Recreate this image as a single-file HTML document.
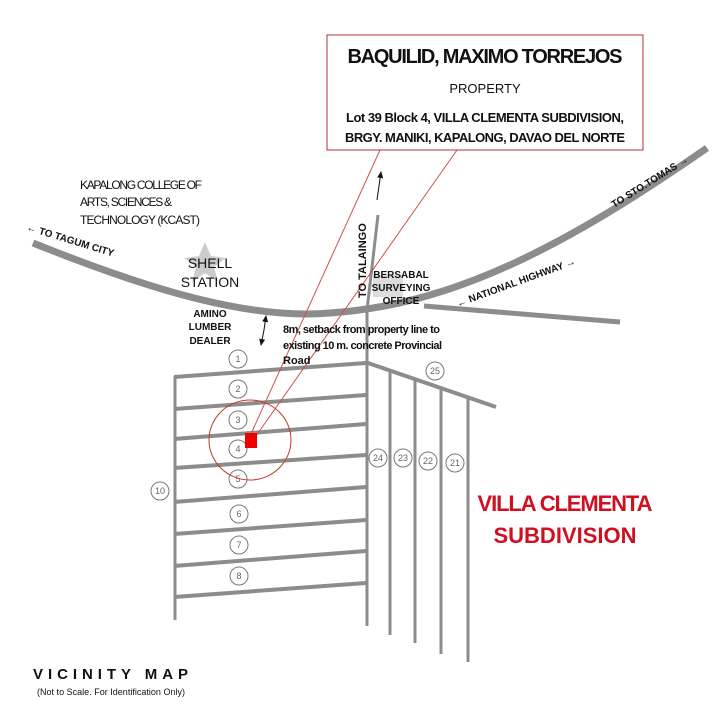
<!DOCTYPE html>
<html><head><meta charset="utf-8"><style>
html,body{margin:0;padding:0;background:#fff}
svg{display:block}
text{font-family:"Liberation Sans",Arial,sans-serif}
</style></head><body>
<svg width="720" height="720" viewBox="0 0 720 720" xmlns="http://www.w3.org/2000/svg">
<defs>
<marker id="ah" markerWidth="8" markerHeight="8" refX="6" refY="4" orient="auto"><path d="M0,1 L7,4 L0,7 z" fill="#111"/></marker>
</defs>
<rect width="720" height="720" fill="#fff"/>
<polygon points="205,242 211,256 226,258 214,267 218,282 205,273 192,282 196,267 184,258 199,256" fill="#ccc"/>
<rect x="373" y="275" width="30" height="22" fill="#ddd"/>
<path d="M33,243 C150,290 250,320 330,313 C450,305 560,250 707,148" fill="none" stroke="#8c8c8c" stroke-width="7"/>
<path d="M424,306 L620,322" stroke="#8c8c8c" stroke-width="5"/>
<path d="M378,215 L367,310 L367,626" fill="none" stroke="#8c8c8c" stroke-width="3"/>
<g stroke="#8c8c8c" stroke-width="4">
<line x1="174" y1="377" x2="366" y2="363"/>
<line x1="174" y1="409" x2="366" y2="395"/>
<line x1="174" y1="439" x2="366" y2="424"/>
<line x1="174" y1="468" x2="366" y2="455"/>
<line x1="174" y1="502" x2="366" y2="487"/>
<line x1="174" y1="534" x2="366" y2="520"/>
<line x1="174" y1="566" x2="366" y2="551"/>
<line x1="174" y1="597" x2="366" y2="583"/>
<line x1="368" y1="363" x2="496" y2="407"/>
</g>
<g stroke="#8c8c8c" stroke-width="3">
<line x1="175" y1="376" x2="175" y2="620"/>
<line x1="390" y1="371" x2="390" y2="635"/>
<line x1="415" y1="380" x2="415" y2="643"/>
<line x1="441" y1="389" x2="441" y2="654"/>
<line x1="468" y1="398" x2="468" y2="662"/>
</g>
<g fill="#fff" stroke="#777" stroke-width="1">
<circle cx="238" cy="359" r="9"/><circle cx="238" cy="389" r="9"/><circle cx="238" cy="420" r="9"/>
<circle cx="238" cy="449" r="9"/><circle cx="238" cy="479" r="9"/><circle cx="239" cy="514" r="9"/>
<circle cx="239" cy="545" r="9"/><circle cx="239" cy="576" r="9"/><circle cx="160" cy="491" r="9"/>
<circle cx="378" cy="458" r="9"/><circle cx="403" cy="458" r="9"/><circle cx="428" cy="461" r="9"/>
<circle cx="455" cy="463" r="9"/><circle cx="435" cy="371" r="9"/>
</g>
<g font-size="9" fill="#666" text-anchor="middle">
<text x="238" y="362">1</text><text x="238" y="392">2</text><text x="238" y="423">3</text>
<text x="238" y="452">4</text><text x="238" y="482">5</text><text x="239" y="517">6</text>
<text x="239" y="548">7</text><text x="239" y="579">8</text><text x="160" y="494">10</text>
<text x="378" y="461">24</text><text x="403" y="461">23</text><text x="428" y="464">22</text>
<text x="455" y="466">21</text><text x="435" y="374">25</text>
</g>
<ellipse cx="250" cy="440" rx="41" ry="40" fill="none" stroke="#c0392b" stroke-width="1"/>
<line x1="380" y1="150" x2="250" y2="436" stroke="#d05050" stroke-width="1"/>
<line x1="457" y1="150" x2="256" y2="436" stroke="#d05050" stroke-width="1"/>
<rect x="245" y="433" width="12" height="15" fill="#e00"/>
<rect x="327" y="35" width="316" height="115" fill="#fff" stroke="#b03040" stroke-width="1"/>
<text x="485" y="63" font-size="20" font-weight="bold" text-anchor="middle" fill="#111" textLength="275">BAQUILID, MAXIMO TORREJOS</text>
<text x="485" y="93" font-size="13" text-anchor="middle" fill="#111">PROPERTY</text>
<text x="485" y="122" font-size="13" font-weight="bold" text-anchor="middle" fill="#111" textLength="278">Lot 39 Block 4, VILLA CLEMENTA SUBDIVISION,</text>
<text x="485" y="142" font-size="13" font-weight="bold" text-anchor="middle" fill="#111" textLength="280">BRGY. MANIKI, KAPALONG, DAVAO DEL NORTE</text>
<line x1="377" y1="200" x2="381" y2="172" stroke="#111" stroke-width="1" marker-end="url(#ah)"/>
<line x1="264" y1="330" x2="266" y2="316" stroke="#111" stroke-width="1" marker-end="url(#ah)"/>
<line x1="264" y1="330" x2="261" y2="345" stroke="#111" stroke-width="1" marker-end="url(#ah)"/>
<g font-size="12" fill="#111">
<text x="80" y="189" textLength="122">KAPALONG COLLEGE OF</text>
<text x="80" y="206" textLength="92">ARTS, SCIENCES &amp;</text>
<text x="80" y="224" textLength="120">TECHNOLOGY (KCAST)</text>
</g>
<text x="0" y="0" font-size="10" font-weight="bold" fill="#111" transform="translate(26,230) rotate(17)">← TO TAGUM CITY</text>
<text x="210" y="268" font-size="14" text-anchor="middle" fill="#111">SHELL</text>
<text x="210" y="287" font-size="14" text-anchor="middle" fill="#111">STATION</text>
<g font-size="10" font-weight="bold" fill="#111" text-anchor="middle">
<text x="210" y="317">AMINO</text><text x="210" y="330">LUMBER</text><text x="210" y="344">DEALER</text>
<text x="401" y="278">BERSABAL</text><text x="401" y="291">SURVEYING</text><text x="401" y="304">OFFICE</text>
</g>
<g font-size="11" font-weight="bold" fill="#111">
<text x="283" y="333" textLength="157">8m, setback from property line to</text>
<text x="283" y="349" textLength="159">existing 10 m. concrete Provincial</text>
<text x="283" y="364">Road</text>
</g>
<text x="0" y="0" font-size="11" font-weight="bold" fill="#111" transform="translate(366,298) rotate(-90)">TO  TALAINGO</text>
<text x="0" y="0" font-size="10" font-weight="bold" fill="#111" transform="translate(458,307) rotate(-20)">← NATIONAL HIGHWAY →</text>
<text x="0" y="0" font-size="10" font-weight="bold" fill="#111" transform="translate(614,208) rotate(-32)">TO STO.TOMAS →</text>
<text x="565" y="511" font-size="22" font-weight="bold" fill="#d01020" text-anchor="middle" textLength="175">VILLA CLEMENTA</text>
<text x="565" y="543" font-size="22" font-weight="bold" fill="#d01020" text-anchor="middle">SUBDIVISION</text>
<text x="33" y="679" font-size="15" font-weight="bold" fill="#111" textLength="155">VICINITY MAP</text>
<text x="37" y="695" font-size="9" fill="#111" textLength="148">(Not to Scale. For Identification Only)</text>
</svg>
</body></html>
